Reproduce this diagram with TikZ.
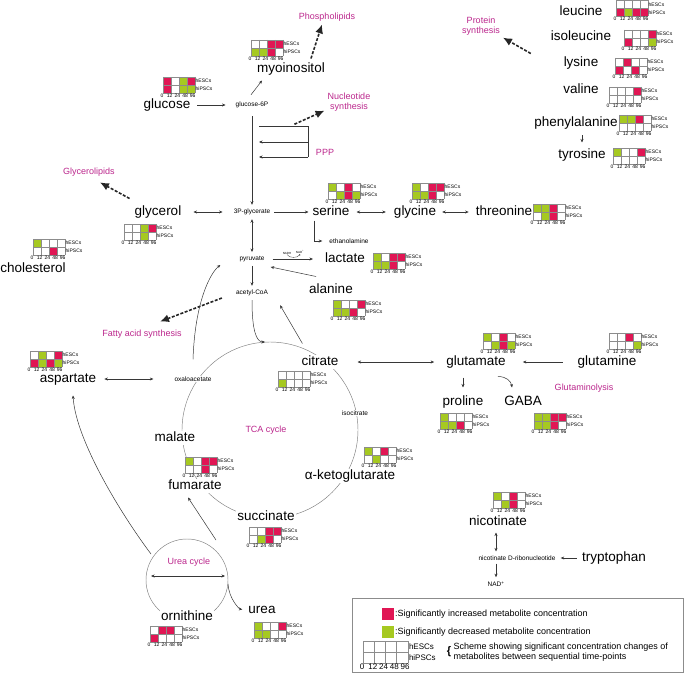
\documentclass[tikz,border=0pt]{standalone}
\usepackage{fontspec}
\setmainfont{Liberation Sans}
\usetikzlibrary{arrows.meta,calc}
\definecolor{UpRed}{RGB}{224,22,84}
\definecolor{DownGreen}{RGB}{166,201,33}
\definecolor{RouteMag}{RGB}{187,38,140}
\definecolor{LineGray}{RGB}{55,55,55}
\definecolor{CycleGray}{RGB}{125,125,125}
\definecolor{CellGray}{RGB}{140,140,140}
\colorlet{up}{UpRed}
\colorlet{dn}{DownGreen}
\colorlet{nc}{white}
\newcommand{\hcw}{8}
\newcommand{\hch}{8}
\tikzset{
  met/.style={font=\fontsize{13.5}{14}\selectfont,inner sep=1pt,text height=9.8pt,text depth=2.8pt},
  metsm/.style={font=\fontsize{6.5}{7}\selectfont,inner sep=1pt},
  tinylab/.style={font=\fontsize{3}{3.5}\selectfont,inner sep=.3pt},
  route/.style={font=\fontsize{9}{10.5}\selectfont,text=RouteMag,align=center,inner sep=1pt},
  heatlab/.style={font=\fontsize{5}{6}\selectfont,inner sep=.5pt},
  legtxt/.style={font=\fontsize{9}{10.5}\selectfont,inner sep=.5pt,align=left},
  conv/.style={-{Stealth[length=3.5pt,width=3pt]},line width=.5pt,draw=LineGray,shorten >=3pt,shorten <=3pt},
  rev/.style={{Stealth[length=3.5pt,width=3pt]}-{Stealth[length=3.5pt,width=3pt]},line width=.5pt,draw=LineGray,shorten >=3pt,shorten <=3pt},
  plain/.style={line width=.5pt,draw=LineGray},
  fate/.style={-{Latex[length=9pt,width=8pt]},line width=1.6pt,dash pattern=on 3pt off 1.6pt,draw=black!85},
  cycl/.style={line width=.45pt,draw=CycleGray},
  pics/heat/.style 2 args={code={
    \foreach \c [count=\k from 0] in {#1} \fill[fill=\c] (\k*\hcw,0) rectangle ++(\hcw,\hch);
    \foreach \c [count=\k from 0] in {#2} \fill[fill=\c] (\k*\hcw,\hch) rectangle ++(\hcw,\hch);
    \foreach \k in {0,...,4} \draw[CellGray,line width=.4pt] (\k*\hcw,0) -- ++(0,2*\hch);
    \foreach \r in {0,1,2} \draw[CellGray,line width=.4pt] (0,\r*\hch) -- ++(4*\hcw,0);
    \node[heatlab,anchor=west] (-e) at (4*\hcw,.5*\hch) {hESCs};
    \node[heatlab,anchor=west] (-i) at (4*\hcw,1.5*\hch) {hiPSCs};
    \foreach \t [count=\k from 0] in {0,12,24,48,96}
      \node[heatlab,anchor=north] (-t\k) at (\k*\hcw*.96-1,2*\hch) {\t};
  }}
}

\begin{document}
\begin{tikzpicture}[x=1pt,y=-1pt]
  \useasboundingbox (0,0) rectangle (685,674);
  \coordinate (tcaC) at (270,430);
  \coordinate (tcaTop) at (265,342);
  \coordinate (ucC) at (187,580);
  \draw[cycl] (tcaC) circle[radius=88pt];
  \draw[cycl] (ucC) circle[radius=41pt];

  \node[met] (glc) at (167,105) {glucose};
  \node[metsm] (g6p) at (252,105) {glucose-6P};
  \node[met] (myo) at (291,69) {myoinositol};
  \node[route] (phos) at (327,17) {Phospholipids};
  \node[route] (nuc) at (349,102) {Nucleotide\\synthesis};
  \node[route] (ppp) at (325,152) {PPP};
  \coordinate (pppT) at (259,126);
  \coordinate (pppM) at (259,142);
  \coordinate (pppB) at (259,157);
  \coordinate (pppR) at (308,126);

  \node[met] (gol) at (158,212) {glycerol};
  \node[metsm] (p3g) at (252,212) {3P-glycerate};
  \node[met] (ser) at (331,212) {serine};
  \node[met] (gly) at (415,212) {glycine};
  \node[met] (thr) at (504,212) {threonine};
  \node[metsm] (eth) at (349,241) {ethanolamine};
  \node[route] (glp) at (89,172) {Glycerolipids};
  \node[met] (chol) at (33,269) {cholesterol};

  \node[metsm] (pyr) at (252,259) {pyruvate};
  \node[met] (lac) at (345,259) {lactate};
  \node[tinylab] (nadh) at (287,253) {NADH};
  \node[tinylab] (nadp) at (300,252) {NAD\textsuperscript{+}};
  \node[met] (ala) at (331,290) {alanine};
  \node[metsm] (acoa) at (252,293) {acetyl-CoA};
  \node[route] (fas) at (142,334) {Fatty acid synthesis};

  \node[met,fill=white] (cit) at (320,362) {citrate};
  \node[metsm,fill=white] (icit) at (355,413) {isocitrate};
  \node[met,fill=white] (akg) at (350,476) {α-ketoglutarate};
  \node[met,fill=white] (suc) at (266,517) {succinate};
  \node[met,fill=white] (fum) at (195,486) {fumarate};
  \node[met,fill=white] (mal) at (175,438) {malate};
  \node[metsm,fill=white] (oaa) at (193,379) {oxaloacetate};
  \node[route] (tca) at (266,430) {TCA cycle};
  \node[met] (asp) at (68,379) {aspartate};

  \node[met] (glu) at (476,362) {glutamate};
  \node[met] (gln) at (607,362) {glutamine};
  \node[met] (pro) at (463,402) {proline};
  \node[met] (gaba) at (523,402) {GABA};
  \node[route] (gls) at (584,388) {Glutaminolysis};

  \node[met] (leu) at (581,12) {leucine};
  \node[met] (ile) at (581,37) {isoleucine};
  \node[met] (lys) at (581,63) {lysine};
  \node[met] (val) at (581,90) {valine};
  \node[met] (phe) at (576,123) {phenylalanine};
  \node[met] (tyr) at (582,155) {tyrosine};
  \node[route] (prot) at (481,26) {Protein\\synthesis};

  \node[met] (nic) at (498,522) {nicotinate};
  \node[metsm] (namn) at (517,558) {nicotinate D-ribonucleotide};
  \node[met] (trp) at (614,558) {tryptophan};
  \node[metsm] (nad) at (496,584) {NAD\textsuperscript{+}};

  \node[met,fill=white] (orn) at (187,617) {ornithine};
  \node[route] (uc) at (189,562) {Urea cycle};
  \node[met] (urea) at (262,610) {urea};
  \coordinate (ucW) at (151,576);
  \coordinate (ucE) at (225,576);
  \coordinate (ucNW) at (151,554);
  \coordinate (ucNE) at (216,540);
  \coordinate (ucR) at (228,584);

  \draw[conv,shorten <=6pt,shorten >=9pt] (glc) -- (g6p);
  \draw[conv,shorten <=0pt,shorten >=0pt] ($(g6p.north)+(-1,-6)$) -- ($(myo.south west)+(6,4)$);
  \draw[fate] ($(myo.north east)+(-15,-3)$) -- ($(phos.south)+(-5,2)$);
  \draw[fate] ($(g6p.south east)+(25,15)$) -- ($(nuc.south west)+(-2,-2)$);
  \draw[conv,shorten <=7pt] (g6p.south) -- (p3g.north);
  \draw[plain] (pppT) -- (pppR) -- (pppR |- pppB);
  \draw[conv,shorten <=0pt,shorten >=0pt] (pppR |- pppM) -- (pppM);
  \draw[conv,shorten <=0pt,shorten >=0pt] (pppR |- pppB) -- (pppB);
  \draw[rev,shorten <=11pt,shorten >=10pt] (gol) -- (p3g);
  \draw[fate] ($(gol.north west)+(-4,-6)$) -- ($(glp.south east)+(-16,5)$);
  \draw[conv] (p3g) -- (ser);
  \draw[conv,shorten <=0pt,shorten >=6pt] ($(ser.south west)+(3,1)$) |- (eth.west);
  \draw[rev,shorten <=6pt,shorten >=7pt] (ser) -- (gly);
  \draw[rev,shorten <=5pt,shorten >=6pt] (gly) -- (thr);
  \draw[rev] (p3g.south) -- (pyr.north);
  \draw[conv,shorten <=7pt,shorten >=11pt] (pyr) -- (lac);
  \draw[-{Stealth[length=1.5pt,width=1.5pt]},line width=.3pt,draw=LineGray] (nadh.south) .. controls +(2,4) and +(-2,4) .. (nadp.south);
  \draw[conv,shorten <=0pt,shorten >=0pt] ($(ala.north west)+(8,-6)$) -- ($(pyr.south east)+(5,4)$);
  \draw[conv] (pyr.south) -- (acoa.north);
  \draw[fate] ($(acoa.west)+(-13,5)$) -- ($(fas.north)+(18,-7)$);
  \draw[conv,shorten >=0pt] (acoa.south) .. controls +(0,32) and +(-9,0) .. (tcaTop);
  \draw[conv,shorten <=0pt,shorten >=0pt] ($(cit.north west)+(2,-11)$) -- ($(acoa.south east)+(11,8)$);
  \draw[conv,shorten <=0pt,shorten >=0pt] ($(oaa.north)+(0,-16)$) .. controls +(2,-58) and +(-10,8) .. ($(pyr.west)+(-18,6)$);
  \draw[rev,shorten <=7pt,shorten >=20pt] (asp) -- (oaa);

  \draw[rev,shorten <=18pt,shorten >=11pt] (cit) -- (glu);
  \draw[conv,shorten <=14pt,shorten >=16pt] (gln) -- (glu);
  \draw[conv,shorten <=8pt,shorten >=7pt] (pro.north |- glu.south) -- (pro.north);
  \draw[conv,shorten <=0pt,shorten >=0pt] ($(glu.south east)+(-9,7)$) .. controls +(9,0) and +(-1,-6) .. ($(gaba.north west)+(9,-7)$);
  \draw[conv,shorten <=5pt,shorten >=5pt] (tyr.north |- phe.south) -- (tyr.north);
  \draw[fate] ($(ile.south west)+(-19,9)$) -- ($(prot.south east)+(2,1)$);

  \draw[rev] (nad.north |- nic.south) -- (nad.north |- namn.north);
  \draw[conv,shorten <=2pt] (nad.north |- namn.south) -- (nad.north);
  \draw[conv,shorten <=4pt,shorten >=4pt] (trp) -- (namn);

  \draw[rev,shorten <=0pt,shorten >=0pt] (ucW) -- (ucE);
  \draw[conv,shorten <=0pt,shorten >=0pt] (ucNW) .. controls +(-30,-40) and +(3,45) .. ($(asp.south)+(5,9)$);
  \draw[conv,shorten <=0pt,shorten >=0pt] (ucNE) -- ($(fum.south)+(-7,4)$);
  \draw[conv,shorten <=0pt,shorten >=5pt] (ucR) .. controls +(1,15) and +(-8,-1) .. (urea.west);

  \pic (glcH) at (163,77) {heat={up,nc,dn,up}{up,nc,dn,dn}};
  \pic (myoH) at (251,40) {heat={nc,nc,up,up}{dn,dn,up,nc}};
  \pic (leuH) at (616,.5) {heat={nc,nc,nc,nc}{up,dn,up,up}};
  \pic (ileH) at (624,30) {heat={nc,nc,nc,up}{up,nc,nc,dn}};
  \pic (lysH) at (615,58) {heat={nc,up,nc,nc}{up,nc,up,nc}};
  \pic (valH) at (609,87) {heat={nc,nc,nc,up}{nc,nc,nc,nc}};
  \pic (pheH) at (619,115) {heat={dn,dn,up,nc}{nc,nc,nc,nc}};
  \pic (tyrH) at (613,148) {heat={dn,nc,nc,up}{nc,nc,nc,nc}};
  \pic (golH) at (124,224) {heat={nc,nc,dn,up}{nc,nc,dn,nc}};
  \pic (cholH) at (33,239) {heat={dn,nc,nc,nc}{nc,nc,up,nc}};
  \pic (serH) at (328,183) {heat={dn,nc,up,nc}{nc,dn,up,dn}};
  \pic (glyH) at (412,183) {heat={dn,nc,up,up}{dn,dn,up,nc}};
  \pic (thrH) at (533,204) {heat={dn,dn,up,nc}{nc,dn,up,nc}};
  \pic (lacH) at (373,253) {heat={dn,nc,up,up}{dn,dn,up,nc}};
  \pic (alaH) at (333,300) {heat={dn,nc,nc,up}{dn,dn,up,nc}};
  \pic (aspH) at (30,351) {heat={nc,dn,nc,up}{up,dn,up,dn}};
  \pic (citH) at (278,371) {heat={nc,nc,nc,nc}{dn,nc,nc,nc}};
  \pic (gluH) at (483,333) {heat={dn,nc,up,nc}{nc,dn,up,dn}};
  \pic (glnH) at (609,333) {heat={nc,nc,up,nc}{nc,nc,nc,dn}};
  \pic (proH) at (440,413) {heat={dn,nc,nc,nc}{dn,dn,up,nc}};
  \pic (gabaH) at (534,413) {heat={dn,dn,up,up}{dn,dn,up,nc}};
  \pic (malH) at (185,457) {heat={dn,nc,up,up}{nc,nc,up,nc}};
  \pic (akgH) at (364,447) {heat={dn,nc,up,nc}{nc,dn,nc,nc}};
  \pic (sucH) at (249,527) {heat={nc,nc,up,up}{nc,dn,up,nc}};
  \pic (nicH) at (493,492) {heat={dn,nc,up,nc}{nc,dn,up,nc}};
  \pic (ornH) at (150,626) {heat={nc,up,up,nc}{up,nc,nc,nc}};
  \pic (ureaH) at (254,622) {heat={dn,nc,nc,up}{dn,dn,nc,nc}};

  \node[draw=CellGray,line width=.5pt,minimum width=331pt,minimum height=74pt,inner sep=0pt,anchor=north west] (legend) at (352,598) {};
  \node[fill=UpRed,minimum size=12pt,inner sep=0pt,anchor=north west] (upkey) at (382,608) {};
  \node[fill=DownGreen,minimum size=12pt,inner sep=0pt,anchor=north west] (dnkey) at (382,626) {};
  \node[legtxt,anchor=west] (uptxt) at (upkey.east) {:Significantly increased metabolite concentration};
  \node[legtxt,anchor=west] (dntxt) at (dnkey.east) {:Significantly decreased metabolite concentration};
  \begin{scope}[heatlab/.style={font=\fontsize{8}{9}\selectfont,inner sep=1pt}]
    \def\hcw{11.2}\def\hch{11}
    \pic (keyH) at (363,641) {heat={nc,nc,nc,nc}{nc,nc,nc,nc}};
  \end{scope}
  \node[font=\fontsize{11}{11}\selectfont\bfseries,inner sep=0pt] (brace) at (449,652) {\{};
  \node[legtxt,anchor=west] (schtxt) at (453,652) {Scheme showing significant concentration changes of\\metabolites between sequential time-points};
\end{tikzpicture}
\end{document}
